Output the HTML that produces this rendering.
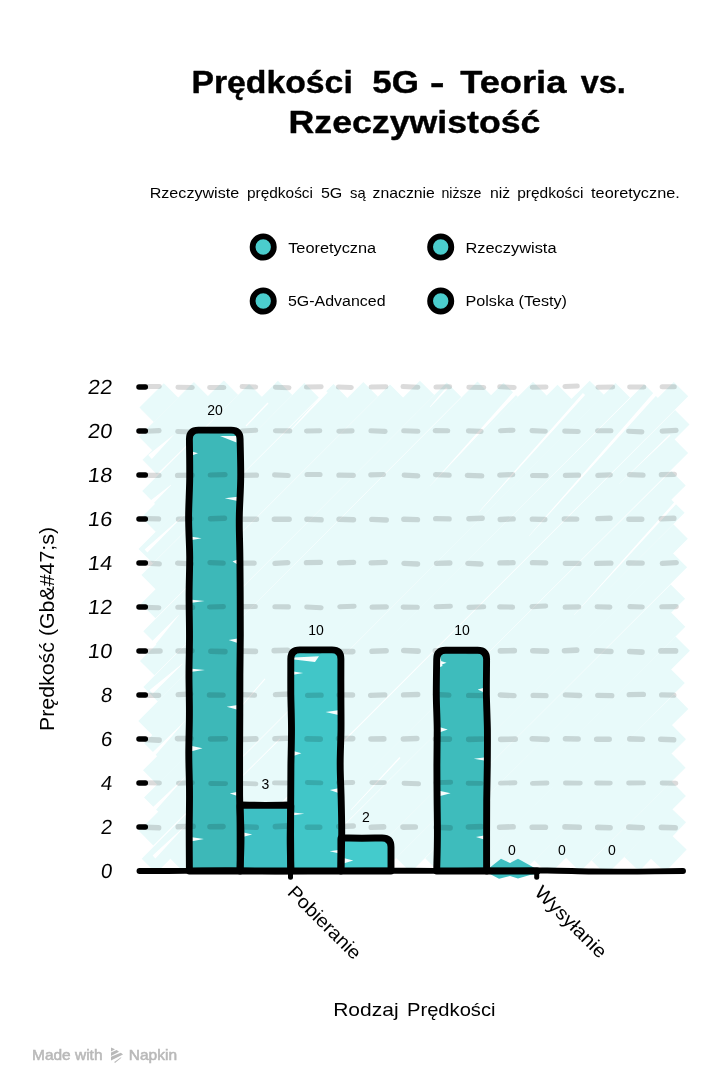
<!DOCTYPE html>
<html lang="pl"><head><meta charset="utf-8"><title>Prędkości 5G - Teoria vs. Rzeczywistość</title>
<style>
html,body{margin:0;padding:0;background:#fff;}
body{width:720px;height:1092px;overflow:hidden;font-family:"Liberation Sans",sans-serif;}
svg{display:block;position:absolute;left:0;top:0;will-change:transform;}
text{font-family:"Liberation Sans",sans-serif;fill:#000;}
.t{font-weight:bold;font-size:31px;stroke:#000;stroke-width:0.4px;stroke-linejoin:round;}
.s{font-size:15px;}
.l{font-size:15.5px;}
.y{font-size:20.5px;}
.v{font-size:14px;}
.a{font-size:19px;}
.f{font-size:15px;fill:#b9b9b9;stroke:#b9b9b9;stroke-width:0.55px;}
</style></head><body>
<svg width="720" height="1092" viewBox="0 0 720 1092">
<rect width="720" height="1092" fill="#fff"/>
<text class="t" x="191.4" y="93" textLength="161.4" lengthAdjust="spacingAndGlyphs">Prędkości</text>
<text class="t" x="372.3" y="93" textLength="46.6" lengthAdjust="spacingAndGlyphs">5G</text>
<text class="t" x="430.0" y="93" textLength="14.5" lengthAdjust="spacingAndGlyphs">-</text>
<text class="t" x="460.2" y="93" textLength="106.2" lengthAdjust="spacingAndGlyphs">Teoria</text>
<text class="t" x="580.8" y="93" textLength="45.1" lengthAdjust="spacingAndGlyphs">vs.</text>
<text class="t" x="288.6" y="132.5" textLength="251.8" lengthAdjust="spacingAndGlyphs">Rzeczywistość</text>
<text class="s" x="149.7" y="198.3" textLength="89.5" lengthAdjust="spacingAndGlyphs">Rzeczywiste</text>
<text class="s" x="247.0" y="198.3" textLength="66.0" lengthAdjust="spacingAndGlyphs">prędkości</text>
<text class="s" x="320.9" y="198.3" textLength="21.4" lengthAdjust="spacingAndGlyphs">5G</text>
<text class="s" x="350.0" y="198.3" textLength="15.6" lengthAdjust="spacingAndGlyphs">są</text>
<text class="s" x="372.6" y="198.3" textLength="62.2" lengthAdjust="spacingAndGlyphs">znacznie</text>
<text class="s" x="441.4" y="198.3" textLength="40.1" lengthAdjust="spacingAndGlyphs">niższe</text>
<text class="s" x="490.0" y="198.3" textLength="20.2" lengthAdjust="spacingAndGlyphs">niż</text>
<text class="s" x="517.2" y="198.3" textLength="66.2" lengthAdjust="spacingAndGlyphs">prędkości</text>
<text class="s" x="591.1" y="198.3" textLength="88.7" lengthAdjust="spacingAndGlyphs">teoretyczne.</text>
<circle cx="263.2" cy="247" r="10.6" fill="#4bcdcd" stroke="#000" stroke-width="5.8"/>
<text class="l" x="288.2" y="252.5" textLength="88" lengthAdjust="spacingAndGlyphs">Teoretyczna</text>
<circle cx="440.7" cy="247" r="10.6" fill="#4bcdcd" stroke="#000" stroke-width="5.8"/>
<text class="l" x="465.5" y="252.5" textLength="91" lengthAdjust="spacingAndGlyphs">Rzeczywista</text>
<circle cx="263.2" cy="301" r="10.6" fill="#4bcdcd" stroke="#000" stroke-width="5.8"/>
<text class="l" x="288" y="305.8" textLength="97.5" lengthAdjust="spacingAndGlyphs">5G-Advanced</text>
<circle cx="440.7" cy="301" r="10.6" fill="#4bcdcd" stroke="#000" stroke-width="5.8"/>
<text class="l" x="465.5" y="305.8" textLength="101.5" lengthAdjust="spacingAndGlyphs">Polska (Testy)</text>
<defs><clipPath id="cp"><rect x="120" y="360" width="600" height="511"/></clipPath></defs>
<g clip-path="url(#cp)" stroke="#e8fafa" stroke-width="20.4" fill="none">
<path d="M146.6,414.7L171.0,390.6"/><path d="M146.1,443.9L201.1,389.3"/><path d="M149.7,467.0L231.0,387.8"/><path d="M149.4,498.2L256.3,391.2"/><path d="M148.7,524.7L285.1,387.9"/><path d="M145.7,556.1L311.6,390.3"/><path d="M148.6,582.2L340.7,391.3"/><path d="M148.2,611.0L370.6,389.2"/><path d="M150.5,638.5L397.3,391.7"/><path d="M147.2,668.1L427.1,387.9"/><path d="M150.6,694.3L454.0,389.8"/><path d="M145.5,728.3L484.7,388.8"/><path d="M151.4,750.5L510.7,389.9"/><path d="M150.2,777.5L540.2,389.1"/><path d="M151.3,804.7L564.7,392.0"/><path d="M146.1,838.3L596.9,387.9"/><path d="M148.9,865.9L622.7,390.2"/><path d="M176.4,864.8L651.5,391.4"/><path d="M204.0,865.3L681.0,389.1"/><path d="M234.3,865.8L682.3,417.3"/><path d="M257.0,869.1L680.9,445.8"/><path d="M288.8,865.3L678.5,478.2"/><path d="M318.6,865.8L677.4,505.6"/><path d="M345.1,865.5L680.6,531.5"/><path d="M370.0,869.8L679.9,560.1"/><path d="M403.5,865.1L677.9,591.6"/><path d="M432.4,865.5L678.1,619.5"/><path d="M460.5,865.2L682.7,643.6"/><path d="M487.9,866.5L677.6,675.9"/><path d="M514.7,865.4L681.2,701.7"/><path d="M541.5,867.6L678.8,732.0"/><path d="M572.7,864.4L678.4,760.4"/><path d="M598.9,867.7L678.7,788.8"/><path d="M631.8,864.1L678.6,815.2"/><path d="M657.7,865.1L679.2,842.4"/>
</g>
<path fill="#fff" d="M430.2,407.2L447.8,388.7L446.2,387.3L429.8,406.8z M430.1,486.1L517.5,393.4L514.5,390.6L429.9,485.9z M479.2,512.1L585.1,395.0L582.9,393.0L478.8,511.9z M529.2,536.1L656.5,395.3L653.5,392.7L528.8,535.9z M574.2,615.1L680.0,499.9L678.0,498.1L573.8,614.9z M619.1,484.1L670.5,435.5L669.5,434.5L618.9,483.9z M151.8,459.0L174.1,434.6L173.9,434.4L148.2,455.0z M153.4,503.6L171.1,485.2L170.9,484.8L150.6,500.4z M147.4,552.5L185.1,514.1L184.9,513.9L144.6,549.5z M246.4,426.4L268.5,403.5L267.5,402.5L245.6,425.6z M290.7,430.7L327.7,392.6L325.7,390.8L290.3,430.3z M152.0,648.8L179.0,615.1L178.6,614.9L148.0,645.2z M152.6,693.8L182.6,664.0L182.4,663.6L149.4,690.2z M150.7,760.6L186.1,720.1L185.9,719.9L147.3,757.4z M152.7,813.6L186.1,776.1L185.9,775.9L149.3,810.4z M155.4,858.4L186.1,825.1L185.9,824.9L152.6,855.6z M242.8,705.3L265.4,679.2L264.6,678.4L242.2,704.7z M242.7,776.2L280.4,739.2L279.6,738.4L242.3,775.8z M351.2,810.2L400.5,758.0L399.5,757.0L350.8,809.8z"/>
<path d="M189.4,871.0 L189.4,439.12 Q189.4,430.12 198.4,430.12 L231.1,430.12 Q240.1,430.12 240.1,439.12 L240.1,871.0 Z" fill="#3db8b8"/>
<path d="M240.1,871.0 L240.1,806.0 Q240.1,805.0 241.1,805.0 L289.8,805.0 Q290.8,805.0 290.8,806.0 L290.8,871.0 Z" fill="#3fc0c4"/>
<path d="M290.8,871.0 L290.8,658.9 Q290.8,649.9 299.8,649.9 L331.9,649.9 Q340.9,649.9 340.9,658.9 L340.9,871.0 Z" fill="#41c6c8"/>
<path d="M340.9,871.0 L340.9,839.0 Q340.9,838.0 341.9,838.0 L382,838.0 Q391,838.0 391,847.0 L391,871.0 Z" fill="#44cbcc"/>
<path d="M436.7,871.0 L436.7,659.34 Q436.7,650.34 445.7,650.34 L477.6,650.34 Q486.6,650.34 486.6,659.34 L486.6,871.0 Z" fill="#3ebcbc"/>
<path fill="#f6fefe" d="M191.9,451.6l6.1,1.7l-6.1,2.2z M237.6,496.7l-12.8,1.6l12.8,2.7z M191.9,536.7l9.7,1.5l-9.7,1.8z M237.6,559.6l-5.1,1.8l5.1,3.1z M191.9,599.8l12.7,1.3l-12.7,1.6z M237.6,638.4l-8.9,1.7l8.9,2.8z M191.9,668.7l13.0,1.4l-13.0,1.7z M237.6,704.9l-10.9,1.8l10.9,3.0z M191.9,746.0l10.6,2.3l-10.6,2.9z M237.6,791.8l-7.8,1.6l7.8,2.7z M191.9,837.2l12.0,1.8l-12.0,2.3z M242.6,832.3l9.6,2.1l-9.6,2.6z M293.3,671.6l9.9,1.4l-9.9,1.7z M338.4,710.2l-12.9,1.8l12.9,3.0z M293.3,751.1l8.1,2.2l-8.1,2.8z M338.4,788.2l-8.5,1.8l8.5,2.9z M293.3,812.4l11.0,1.3l-11.0,1.6z M338.4,850.0l-8.8,1.2l8.8,2.0z M343.4,857.9l9.9,2.5l-9.9,3.1z M439.2,660.6l7.4,2.1l-7.4,2.7z M484.1,687.8l-6.4,1.8l6.4,3.0z M439.2,727.0l8.5,2.4l-8.5,3.0z M484.1,757.5l-10.3,1.2l10.3,1.9z M439.2,790.7l11.4,2.5l-11.4,3.1z M484.1,835.6l-8.1,1.5l8.1,2.5z M294,657.6L319,656.2L315,662L294,659.5z M220,436L236.5,442.5L236.5,436z M440,656L442.5,666L440,667z"/>
<path fill="#3fc0c2" d="M488,869L501,858.7L510,863L518,858.7L536.5,869L536.5,874L530,875L518,878.6L510,876L499,878.8L490,874z"/>
<path d="M145.0,827.3l13.6,0.5M178.2,826.8l14.9,-0.5M210.0,826.7l13.0,-0.1M242.6,826.8l13.6,0.5M275.4,826.6l13.5,-0.7M307.4,827.2l12.3,0.1M338.8,826.5l14.4,-0.5M371.3,827.3l12.3,-0.4M403.0,827.1l12.3,-0.1M436.1,827.3l14.0,0.6M468.4,827.0l12.8,-0.4M499.6,827.2l13.5,-0.4M532.2,827.2l13.2,0.0M565.0,826.9l14.3,0.4M597.7,827.4l12.4,0.3M628.8,827.1l13.5,0.6M661.4,827.4l13.8,0.4" fill="none" stroke="#000" stroke-opacity="0.14" stroke-width="5.6" stroke-linecap="round"/>
<path d="M145.5,782.7l14.0,0.3M178.4,783.2l14.0,-0.4M210.7,783.5l14.9,0.1M242.8,783.4l13.1,0.5M274.4,782.9l12.4,0.1M307.3,782.5l13.6,0.4M338.4,782.7l14.4,-0.2M371.8,782.6l12.6,0.0M404.0,783.2l14.6,0.6M435.8,782.6l14.9,-0.4M468.1,783.2l13.0,0.2M500.4,783.1l14.6,-0.3M532.4,783.4l14.6,-0.4M565.4,783.0l14.9,0.1M596.6,783.0l13.7,0.1M628.6,783.0l14.9,-0.1M662.1,783.0l13.8,0.3" fill="none" stroke="#000" stroke-opacity="0.14" stroke-width="4.9" stroke-linecap="round"/>
<path d="M145.7,739.5l13.4,0.6M177.5,738.6l13.5,-0.1M210.6,739.0l14.7,-0.3M241.9,739.4l13.9,-0.5M275.0,738.7l12.3,-0.4M307.1,738.9l13.1,0.2M338.5,738.6l14.2,0.0M371.0,739.0l12.8,-0.1M403.4,739.0l13.4,-0.5M435.4,739.1l14.0,0.0M468.7,739.4l13.9,-0.4M500.7,739.4l14.5,-0.3M532.3,738.7l14.8,0.7M565.5,738.7l12.6,0.3M596.7,739.3l12.5,-0.1M629.8,738.9l12.6,0.3M660.8,739.2l12.8,0.6" fill="none" stroke="#000" stroke-opacity="0.14" stroke-width="5.6" stroke-linecap="round"/>
<path d="M145.0,695.3l13.6,0.0M178.1,694.6l12.7,-0.6M209.4,695.0l13.7,0.1M241.8,694.7l12.7,0.5M275.4,694.6l14.8,-0.6M307.6,695.3l13.5,-0.2M339.0,694.9l13.6,0.1M370.6,695.3l14.2,-0.4M403.5,694.9l14.3,-0.4M435.3,694.5l13.6,0.6M468.6,695.4l14.2,0.2M500.2,695.0l13.9,0.7M533.1,695.4l12.9,0.3M565.3,694.9l14.5,0.6M597.7,695.3l14.1,0.4M629.2,694.6l14.2,-0.2M661.6,694.9l12.2,0.2" fill="none" stroke="#000" stroke-opacity="0.14" stroke-width="5.3" stroke-linecap="round"/>
<path d="M145.2,651.2l14.8,-0.2M178.1,651.0l13.8,-0.2M210.9,651.2l14.0,0.4M243.1,651.1l12.3,0.3M274.2,650.6l13.3,-0.4M306.7,650.8l12.5,0.6M339.2,651.5l13.6,0.1M372.1,651.3l14.0,-0.6M403.8,650.5l14.3,0.6M435.3,650.7l13.5,-0.0M468.3,651.4l12.4,-0.1M500.4,650.9l13.9,-0.3M532.8,650.8l13.8,0.3M564.5,650.7l12.2,-0.6M596.6,650.9l14.3,0.6M629.7,651.5l12.3,0.6M660.9,650.9l14.7,-0.0" fill="none" stroke="#000" stroke-opacity="0.14" stroke-width="5.6" stroke-linecap="round"/>
<path d="M145.2,607.4l13.7,0.3M177.8,607.3l14.9,0.1M209.5,607.0l13.9,-0.4M241.6,606.6l13.7,-0.1M274.9,606.8l13.5,0.1M306.7,607.0l14.4,0.7M339.8,606.7l14.3,-0.5M372.0,607.1l14.4,-0.2M403.2,607.1l14.1,0.1M436.1,606.7l14.3,-0.4M468.9,607.4l14.8,-0.6M499.6,606.9l13.0,0.2M532.0,606.6l13.7,-0.6M565.1,607.1l13.7,-0.2M597.1,606.8l12.8,0.3M629.9,606.6l12.4,0.4M661.8,606.7l14.4,-0.1" fill="none" stroke="#000" stroke-opacity="0.14" stroke-width="5.1" stroke-linecap="round"/>
<path d="M146.1,563.2l13.2,0.7M177.6,563.2l13.7,0.6M210.0,562.6l13.2,0.5M241.7,563.1l12.4,-0.0M274.9,563.3l13.0,-0.6M306.4,562.6l14.1,-0.3M339.5,562.8l14.1,-0.5M371.1,562.9l14.2,-0.5M403.9,563.4l13.8,0.6M436.5,563.3l13.4,-0.3M467.8,563.4l13.3,0.6M499.9,562.9l13.2,-0.2M532.4,562.7l13.3,0.1M565.3,563.3l13.7,0.1M596.6,563.4l14.3,-0.3M628.6,563.0l13.6,0.1M662.3,563.3l14.0,-0.6" fill="none" stroke="#000" stroke-opacity="0.14" stroke-width="5.3" stroke-linecap="round"/>
<path d="M146.1,518.6l12.4,0.3M178.5,519.1l12.4,-0.5M210.5,518.7l14.0,-0.4M242.8,519.3l13.7,-0.1M274.3,519.2l14.9,-0.0M306.9,519.2l14.2,0.6M339.0,519.2l14.5,0.5M371.8,519.4l14.5,0.6M403.8,519.2l13.7,0.4M435.7,518.6l13.4,0.3M468.9,518.7l13.3,-0.4M500.2,519.5l13.0,-0.6M532.3,519.1l12.5,0.4M564.3,519.0l12.4,0.1M597.8,518.6l12.3,-0.4M628.9,519.2l12.9,0.1M661.2,518.8l12.7,-0.5" fill="none" stroke="#000" stroke-opacity="0.14" stroke-width="5.4" stroke-linecap="round"/>
<path d="M145.3,475.3l13.7,-0.0M177.5,475.4l14.7,-0.2M210.2,475.0l14.9,-0.4M241.6,475.3l14.9,-0.2M274.6,474.8l13.6,0.7M307.1,474.5l12.9,-0.0M338.9,475.2l14.4,0.1M370.8,474.8l12.6,-0.3M404.2,475.1l13.6,0.7M435.5,474.7l13.7,0.4M467.3,475.3l14.5,0.5M499.7,475.2l13.0,-0.6M532.6,475.5l13.5,0.1M565.4,475.3l13.1,-0.1M597.8,475.3l12.5,-0.4M629.4,474.7l13.7,0.5M661.3,474.6l13.1,-0.3" fill="none" stroke="#000" stroke-opacity="0.14" stroke-width="5.2" stroke-linecap="round"/>
<path d="M145.9,431.2l13.2,-0.6M177.7,431.5l13.5,0.5M210.3,430.9l12.2,0.3M241.9,431.0l13.8,-0.7M275.4,430.7l14.4,0.2M306.5,431.0l13.3,-0.3M338.8,431.2l13.3,-0.3M370.9,430.8l14.2,0.6M403.7,430.8l14.2,0.5M435.2,430.6l12.6,0.2M468.4,430.9l12.7,0.5M500.5,430.7l12.5,-0.5M532.0,430.6l13.3,0.6M564.7,431.1l13.6,0.4M597.6,430.8l13.3,-0.1M628.6,431.2l13.3,0.7M662.1,431.1l14.0,-0.7" fill="none" stroke="#000" stroke-opacity="0.14" stroke-width="5.1" stroke-linecap="round"/>
<path d="M145.3,386.6l14.0,-0.2M177.9,387.3l14.4,0.2M209.6,387.4l14.3,0.1M242.1,386.6l13.6,0.3M275.4,387.2l13.6,0.5M306.4,387.1l14.8,-0.4M338.4,387.1l12.9,0.3M371.1,386.9l14.8,-0.1M403.0,386.6l14.9,0.6M435.9,387.1l13.8,-0.3M468.8,387.3l15.0,0.1M499.7,386.8l14.5,0.6M532.2,387.3l13.8,-0.4M564.9,386.5l12.4,-0.4M597.9,387.2l14.8,-0.3M629.6,386.9l14.3,0.1M662.1,386.7l12.2,-0.0" fill="none" stroke="#000" stroke-opacity="0.14" stroke-width="5.0" stroke-linecap="round"/>
<path d="M189.4,871.0C189.4,864.5 189.2,844.8 189.2,831.7C189.2,818.7 189.6,805.6 189.5,792.5C189.5,779.4 188.8,766.3 188.8,753.2C188.8,740.1 189.4,727.0 189.4,714.0C189.5,700.9 189.0,687.8 189.0,674.7C189.0,661.6 189.5,648.5 189.5,635.4C189.5,622.3 189.1,609.3 189.1,596.2C189.1,583.1 189.7,570.0 189.7,556.9C189.6,543.8 188.6,530.7 188.6,517.6C188.6,504.6 189.6,491.5 189.7,478.4C189.8,465.3 189.5,445.7 189.4,439.1Q189.4,430.12 198.4,430.1C203.8,430.1 225.7,430.1 231.1,430.1Q240.1,430.12 240.1,439.1C240.2,445.7 240.9,465.3 240.7,478.4C240.6,491.5 239.4,504.6 239.3,517.6C239.1,530.7 239.8,543.8 239.9,556.9C240.1,570.0 240.1,583.1 240.2,596.2C240.2,609.3 240.3,622.3 240.3,635.4C240.2,648.5 240.0,661.6 239.9,674.7C239.8,687.8 239.8,700.9 239.8,714.0C239.7,727.0 239.7,740.1 239.6,753.2C239.6,766.3 239.6,779.4 239.6,792.5C239.7,805.6 240.1,818.7 240.1,831.7C240.2,844.8 240.1,864.5 240.1,871.0L189.4,871.0" fill="none" stroke="#000" stroke-width="6.9" stroke-linejoin="round" stroke-linecap="round"/>
<path d="M240.1,871.0C240.2,865.6 241.0,849.3 241.0,838.5C241.0,827.7 240.2,811.4 240.1,806.0Q240.1,805.0 241.1,805.0C245.2,805.1 257.3,805.4 265.4,805.4C273.6,805.4 285.7,805.1 289.8,805.0Q290.8,805.0 290.8,806.0C290.7,811.4 290.2,827.7 290.2,838.5C290.2,849.3 290.7,865.6 290.8,871.0L240.1,871.0" fill="none" stroke="#000" stroke-width="6.9" stroke-linejoin="round" stroke-linecap="round"/>
<path d="M290.8,871.0C290.8,865.1 290.7,847.4 290.6,835.6C290.6,823.9 290.6,812.1 290.7,800.3C290.7,788.5 290.8,776.7 290.9,765.0C291.1,753.2 291.5,741.4 291.5,729.6C291.5,717.8 291.0,706.0 290.8,694.2C290.7,682.5 290.8,664.8 290.8,658.9Q290.8,649.9 299.8,649.9C305.1,649.9 326.5,649.9 331.9,649.9Q340.9,649.9 340.9,658.9C340.9,664.8 340.8,682.5 340.9,694.2C340.9,706.0 341.1,717.8 341.0,729.6C340.9,741.4 340.1,753.2 340.2,765.0C340.2,776.7 341.0,788.5 341.2,800.3C341.5,812.1 341.8,823.9 341.7,835.6C341.6,847.4 341.0,865.1 340.9,871.0L290.8,871.0" fill="none" stroke="#000" stroke-width="6.9" stroke-linejoin="round" stroke-linecap="round"/>
<path d="M340.9,871.0C340.9,865.7 340.9,844.3 340.9,839.0Q340.9,838.0 341.9,838.0C345.2,838.0 355.3,838.2 361.9,838.2C368.6,838.2 378.7,838.0 382.0,838.0Q391,838.0 391.0,847.0C391.0,851.0 391.0,867.0 391.0,871.0L340.9,871.0" fill="none" stroke="#000" stroke-width="6.9" stroke-linejoin="round" stroke-linecap="round"/>
<path d="M436.7,871.0C436.8,865.1 437.4,847.5 437.4,835.7C437.5,824.0 437.2,812.2 437.1,800.4C437.0,788.7 436.9,776.9 436.9,765.2C436.9,753.4 437.2,741.7 437.2,729.9C437.1,718.1 436.4,706.4 436.3,694.6C436.3,682.9 436.6,665.2 436.7,659.3Q436.7,650.34 445.7,650.3C451.0,650.3 472.3,650.3 477.6,650.3Q486.6,650.34 486.6,659.3C486.6,665.2 486.3,682.9 486.4,694.6C486.6,706.4 487.2,718.1 487.4,729.9C487.5,741.7 487.4,753.4 487.3,765.2C487.2,776.9 486.8,788.7 486.7,800.4C486.6,812.2 486.6,824.0 486.6,835.7C486.6,847.5 486.6,865.1 486.6,871.0L436.7,871.0" fill="none" stroke="#000" stroke-width="6.9" stroke-linejoin="round" stroke-linecap="round"/>
<path d="M139.5,871.0C147.0,871.0 169.7,871.0 184.8,870.9C199.9,870.8 215.0,870.4 230.1,870.5C245.2,870.5 260.3,871.1 275.4,871.2C290.5,871.3 305.6,871.1 320.7,871.0C335.8,870.9 350.9,870.7 366.0,870.7C381.1,870.6 396.2,870.7 411.2,870.8C426.3,870.8 441.4,870.9 456.5,870.9C471.6,870.9 486.7,870.7 501.8,870.7C516.9,870.6 532.0,870.3 547.1,870.5C562.2,870.6 577.3,871.3 592.4,871.5C607.5,871.7 622.6,871.6 637.7,871.6C652.8,871.5 675.5,871.1 683.0,871.0" fill="none" stroke="#000" stroke-width="5.9" stroke-linecap="round"/>
<line x1="487" y1="871.0" x2="537" y2="871.0" stroke="#000" stroke-width="7.2" stroke-linecap="round"/>
<line x1="139" y1="827.0" x2="145.3" y2="827.0" stroke="#000" stroke-width="5.5" stroke-linecap="round"/>
<line x1="139" y1="783.0" x2="145.3" y2="783.0" stroke="#000" stroke-width="5.5" stroke-linecap="round"/>
<line x1="139" y1="739.0" x2="145.3" y2="739.0" stroke="#000" stroke-width="5.5" stroke-linecap="round"/>
<line x1="139" y1="695.0" x2="145.3" y2="695.0" stroke="#000" stroke-width="5.5" stroke-linecap="round"/>
<line x1="139" y1="651.0" x2="145.3" y2="651.0" stroke="#000" stroke-width="5.5" stroke-linecap="round"/>
<line x1="139" y1="607.0" x2="145.3" y2="607.0" stroke="#000" stroke-width="5.5" stroke-linecap="round"/>
<line x1="139" y1="563.0" x2="145.3" y2="563.0" stroke="#000" stroke-width="5.5" stroke-linecap="round"/>
<line x1="139" y1="519.0" x2="145.3" y2="519.0" stroke="#000" stroke-width="5.5" stroke-linecap="round"/>
<line x1="139" y1="475.0" x2="145.3" y2="475.0" stroke="#000" stroke-width="5.5" stroke-linecap="round"/>
<line x1="139" y1="431.0" x2="145.3" y2="431.0" stroke="#000" stroke-width="5.5" stroke-linecap="round"/>
<line x1="139" y1="387.0" x2="145.3" y2="387.0" stroke="#000" stroke-width="5.5" stroke-linecap="round"/>
<line x1="290.5" y1="871.0" x2="290.5" y2="877.2" stroke="#000" stroke-width="5" stroke-linecap="round"/>
<line x1="536.7" y1="871.0" x2="536.7" y2="877.2" stroke="#000" stroke-width="5" stroke-linecap="round"/>
<text class="y" transform="translate(111.6,878.0) skewX(-7)" text-anchor="end">0</text>
<text class="y" transform="translate(111.6,834.0) skewX(-7)" text-anchor="end">2</text>
<text class="y" transform="translate(111.6,790.0) skewX(-7)" text-anchor="end">4</text>
<text class="y" transform="translate(111.6,746.0) skewX(-7)" text-anchor="end">6</text>
<text class="y" transform="translate(111.6,702.0) skewX(-7)" text-anchor="end">8</text>
<text class="y" transform="translate(111.6,658.0) skewX(-7)" text-anchor="end" textLength="24.3" lengthAdjust="spacingAndGlyphs">10</text>
<text class="y" transform="translate(111.6,614.0) skewX(-7)" text-anchor="end" textLength="24.3" lengthAdjust="spacingAndGlyphs">12</text>
<text class="y" transform="translate(111.6,570.0) skewX(-7)" text-anchor="end" textLength="24.3" lengthAdjust="spacingAndGlyphs">14</text>
<text class="y" transform="translate(111.6,526.0) skewX(-7)" text-anchor="end" textLength="24.3" lengthAdjust="spacingAndGlyphs">16</text>
<text class="y" transform="translate(111.6,482.0) skewX(-7)" text-anchor="end" textLength="24.3" lengthAdjust="spacingAndGlyphs">18</text>
<text class="y" transform="translate(111.6,438.0) skewX(-7)" text-anchor="end" textLength="24.3" lengthAdjust="spacingAndGlyphs">20</text>
<text class="y" transform="translate(111.6,394.0) skewX(-7)" text-anchor="end" textLength="24.3" lengthAdjust="spacingAndGlyphs">22</text>
<text class="v" x="215" y="415.0" text-anchor="middle">20</text>
<text class="v" x="265.3" y="789.0" text-anchor="middle">3</text>
<text class="v" x="316" y="635.0" text-anchor="middle">10</text>
<text class="v" x="366" y="822.0" text-anchor="middle">2</text>
<text class="v" x="462" y="635.0" text-anchor="middle">10</text>
<text class="v" x="512" y="855.0" text-anchor="middle">0</text>
<text class="v" x="562" y="855.0" text-anchor="middle">0</text>
<text class="v" x="612" y="855.0" text-anchor="middle">0</text>
<text class="a" transform="translate(53.8,629) rotate(-90)" text-anchor="middle" style="font-size:20px" textLength="204" lengthAdjust="spacingAndGlyphs">Prędkość (Gb&amp;#47;s)</text>
<text class="a" x="333.2" y="1016.4" textLength="65.4" lengthAdjust="spacingAndGlyphs">Rodzaj</text>
<text class="a" x="407.0" y="1016.4" textLength="88.5" lengthAdjust="spacingAndGlyphs">Prędkości</text>
<text class="a" transform="translate(286.5,893.5) rotate(45)" textLength="95" lengthAdjust="spacingAndGlyphs">Pobieranie</text>
<text class="a" transform="translate(533.5,893.5) rotate(45)" textLength="93" lengthAdjust="spacingAndGlyphs">Wysyłanie</text>
<text class="f" x="32" y="1059.6" textLength="70.5" lengthAdjust="spacingAndGlyphs">Made with</text>
<text class="f" x="128.8" y="1059.6" textLength="48.2" lengthAdjust="spacingAndGlyphs">Napkin</text>
<g fill="#b9b9b9"><path d="M111,1047.4L115,1049.3L111,1051.5z"/><path d="M111,1052.6L116.7,1050L119,1051.7L111,1055.9z"/><path d="M111,1056.8L120.8,1052.8L123,1054.4L111,1060.6z"/><path d="M114.2,1062L121,1057.3L121.4,1057.8L115,1063z"/></g>
</svg></body></html>
